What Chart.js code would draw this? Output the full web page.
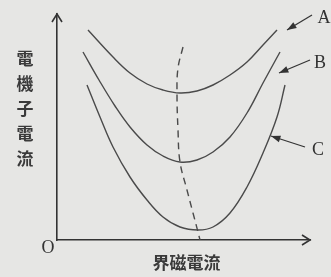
<!DOCTYPE html>
<html>
<head>
<meta charset="utf-8">
<script src="https://cdn.jsdelivr.net/npm/chart.js@4.4.1/dist/chart.umd.min.js"></script>
<style>
  html, body { margin: 0; padding: 0; background: #e6e6e4; }
  #wrap { width: 331px; height: 277px; }
</style>
</head>
<body>
<div id="wrap"><canvas id="vcurve"></canvas></div>
<script>
// V curves, values (arbitrary units)
const curveAx = [31, 56, 73, 90, 106, 123, 140, 156, 173, 190, 206, 220];
const curveAy = [210, 183, 167, 156, 150, 147, 149, 155, 165, 178, 195, 210];
const curveBx = [26, 42, 58, 73, 90, 106, 123, 140, 156, 173, 190, 206, 223];
const curveBy = [188, 160, 134, 113, 95, 84, 78, 80, 88, 103, 127, 157, 188];
const curveCx = [30, 43, 56, 73, 90, 106, 123, 141, 156, 173, 190, 206, 220, 228];
const curveCy = [155, 123, 93, 63, 40, 23, 13, 10, 13, 27, 53, 87, 123, 155];
const minLineX = [126, 121, 120, 121, 123, 130, 136, 141, 143];
const minLineY = [193, 172, 147, 110, 78, 50, 27, 8, 0];

const curveLabels = ['A', 'B', 'C'];
const xTitle = '界磁電流';
const yTitle = ['電', '機', '子', '電', '流'];

function pts(xs, ys) {
    return xs.map((x, i) => ({ x: x, y: ys[i] }));
}

const ink = '#4a4a4a';

// axis arrows, labels and the little pointer arrows
const decorations = {
    id: 'decorations',
    afterDraw(chart) {
        const c = chart.ctx;
        const a = chart.chartArea;
        const sx = chart.scales.x, sy = chart.scales.y;
        c.save();
        c.strokeStyle = '#333';
        c.fillStyle = '#333';
        c.lineWidth = 1.6;

        // arrow heads on axes
        c.beginPath();
        c.moveTo(a.left - 5, a.top + 8);
        c.lineTo(a.left, a.top);
        c.lineTo(a.left + 5, a.top + 8);
        c.moveTo(a.right - 8, a.bottom - 5);
        c.lineTo(a.right, a.bottom);
        c.lineTo(a.right - 8, a.bottom + 5);
        c.stroke();

        // pointer arrows to curves (tail -> head, in data units)
        const pointers = [
            [[255, 225], [230, 210]],
            [[253, 180], [222, 167]],
            [[248, 93], [214, 104]]
        ];
        const labelPos = [[267, 222], [263, 177], [261, 90]];
        c.lineWidth = 1.2;
        pointers.forEach((p, i) => {
            const x1 = sx.getPixelForValue(p[0][0]), y1 = sy.getPixelForValue(p[0][1]);
            const x2 = sx.getPixelForValue(p[1][0]), y2 = sy.getPixelForValue(p[1][1]);
            const ang = Math.atan2(y2 - y1, x2 - x1);
            c.beginPath();
            c.moveTo(x1, y1);
            c.lineTo(x2, y2);
            c.stroke();
            c.beginPath();
            c.moveTo(x2, y2);
            c.lineTo(x2 - 10 * Math.cos(ang - 0.35), y2 - 10 * Math.sin(ang - 0.35));
            c.lineTo(x2 - 10 * Math.cos(ang + 0.35), y2 - 10 * Math.sin(ang + 0.35));
            c.closePath();
            c.fill();

            c.font = '18px "Liberation Serif"';
            c.textAlign = 'center';
            c.textBaseline = 'middle';
            c.fillText(curveLabels[i], sx.getPixelForValue(labelPos[i][0]), sy.getPixelForValue(labelPos[i][1]));
        });

        // origin
        c.font = '18px "Liberation Serif"';
        c.textAlign = 'center';
        c.textBaseline = 'middle';
        c.fillText('O', a.left - 9, a.bottom + 8);

        // axis titles
        c.font = 'bold 17px "Noto Sans CJK TC"';
        c.fillStyle = '#3a3a3a';
        c.fillText(xTitle, (a.left + a.right) / 2 + 3, a.bottom + 23);
        yTitle.forEach((ch, i) => {
            c.fillText(ch, a.left - 32, a.top + 45 + i * 25);
        });
        c.restore();
    }
};

function lineSet(data, dashed) {
    return {
        data: data,
        showLine: true,
        borderColor: ink,
        borderWidth: 1.4,
        borderDash: dashed ? [7, 5] : [],
        pointRadius: 0,
        tension: 0.4,
        fill: false
    };
}

new Chart(document.getElementById('vcurve'), {
    type: 'scatter',
    data: {
        datasets: [
            lineSet(pts(curveAx, curveAy), false),
            lineSet(pts(curveBx, curveBy), false),
            lineSet(pts(curveCx, curveCy), false),
            lineSet(pts(minLineX, minLineY), true)
        ]
    },
    options: {
        responsive: true,
        maintainAspectRatio: false,
        animation: false,
        layout: { padding: { left: 57, right: 21, top: 14, bottom: 37 } },
        plugins: {
            legend: { display: false },
            tooltip: { enabled: false }
        },
        scales: {
            x: {
                type: 'linear', min: 0, max: 253,
                ticks: { display: false },
                grid: { display: false, drawTicks: false },
                border: { display: true, color: '#333', width: 1.6 }
            },
            y: {
                type: 'linear', min: 0, max: 226,
                ticks: { display: false },
                grid: { display: false, drawTicks: false },
                border: { display: true, color: '#333', width: 1.6 }
            }
        }
    },
    plugins: [decorations]
});
</script>
</body>
</html>
